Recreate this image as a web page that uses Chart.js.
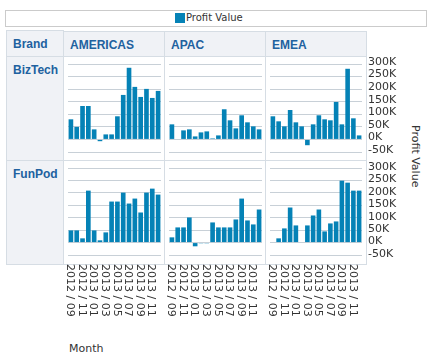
<!DOCTYPE html>
<html>
<head>
<meta charset="utf-8">
<script src="https://cdn.jsdelivr.net/npm/chart.js@4.4.0/dist/chart.umd.min.js"></script>
<style>
  body { margin: 0; background: #fff; width: 442px; height: 363px; overflow: hidden; position: relative; font-family: "DejaVu Sans", sans-serif; }
  .cell { position: absolute; box-sizing: border-box; border: 1px solid #d6dde4; }
  .hd { background: #f0f2f6; color: #21619f; font: bold 12px "Liberation Sans", Arial, sans-serif; padding-left: 6px; line-height: 14px; }
  canvas { position: absolute; }
  .txt { position: absolute; color: #333; white-space: nowrap; }
</style>
</head>
<body>
<div class="cell" style="left:5px;top:10px;width:422px;height:17px;border-color:#cbcbcb;"></div>
<div style="position:absolute;left:175px;top:13px;width:10px;height:10px;background:#0582b6;"></div>
<div class="txt" style="left:186px;top:12px;font-size:10px;line-height:12px;">Profit Value</div>
<div id="grid"></div>
<div class="txt" style="left:409px;top:125px;font-size:11px;line-height:12px;writing-mode:vertical-rl;">Profit Value</div>
<div class="txt" style="left:69px;top:342px;font-size:11px;line-height:13px;">Month</div>
<script>
(function () {
    'use strict';

    const months = ['2012 / 09', '2012 / 10', '2012 / 11', '2012 / 12', '2013 / 01', '2013 / 02', '2013 / 03', '2013 / 04',
        '2013 / 05', '2013 / 06', '2013 / 07', '2013 / 08', '2013 / 09', '2013 / 10', '2013 / 11', '2013 / 12']
    const regions = ['AMERICAS', 'APAC', 'EMEA']
    const brands = ['BizTech', 'FunPod']
    const yTicks = [-50000, 0, 50000, 100000, 150000, 200000, 250000, 300000]

    // profit per month
    const bizTechAmericas = [80000, 50000, 133000, 133000, 40000, -7000, 20000, 20000, 92000, 177000, 285000, 209000, 169000, 201000, 165000, 193000]
    const bizTechApac = [60000, 0, 36000, 40000, 12000, 28000, 32000, 4000, 16000, 120000, 76000, 44000, 96000, 68000, 52000, 40000]
    const bizTechEmea = [92000, 72000, 52000, 117000, 68000, 52000, -23000, 60000, 96000, 80000, 76000, 149000, 60000, 281000, 84000, 16000]
    const funPodAmericas = [49000, 49000, 17000, 209000, 49000, 9000, 41000, 165000, 165000, 201000, 157000, 177000, 121000, 201000, 217000, 193000]
    const funPodApac = [21000, 61000, 61000, 101000, -15000, -3000, -3000, 81000, 61000, 61000, 61000, 93000, 177000, 89000, 73000, 133000]
    const funPodEmea = [-2000, 17000, 57000, 141000, 69000, -2000, 69000, 109000, 133000, 45000, 77000, 85000, 249000, 241000, 209000, 209000]

    const series = [
        [bizTechAmericas, bizTechApac, bizTechEmea],
        [funPodAmericas, funPodApac, funPodEmea]
    ]

    let grid = document.getElementById('grid')
    function cell(x1, y1, x2, y2, cls, text) {
        let d = document.createElement('div')
        d.className = 'cell ' + (cls || '')
        d.style.cssText = `left:${x1}px;top:${y1}px;width:${x2 - x1 + 1}px;height:${y2 - y1 + 1}px;`
        if (text) d.textContent = text
        grid.appendChild(d)
        return d
    }

    let colX = [63, 164, 265, 366]
    let rowY = [56, 160, 264]
    cell(6, 30, 63, 56, 'hd', 'Brand').style.paddingTop = '6px'
    regions.forEach((r, i) => {
        cell(colX[i], 31, colX[i + 1], 56, 'hd', r).style.paddingTop = '6px'
    })
    brands.forEach((b, j) => {
        cell(6, rowY[j], 63, rowY[j + 1], 'hd', b).style.paddingTop = '6px'
        regions.forEach((r, i) => cell(colX[i], rowY[j], colX[i + 1], rowY[j + 1]))
    })

    const monthLabels = {
        id: 'monthLabels',
        afterDraw(chart, args, opts) {
            if (!opts.show) return
            let ctx = chart.ctx
            let x = chart.scales.x
            ctx.save()
            ctx.font = '11px "DejaVu Sans"'
            ctx.fillStyle = '#333'
            ctx.textAlign = 'left'
            ctx.textBaseline = 'middle'
            months.forEach((m, i) => {
                if (i % 2) return
                ctx.save()
                ctx.translate(x.getPixelForValue(i) - 1, chart.chartArea.bottom + 9)
                ctx.rotate(Math.PI / 2)
                ctx.fillText(m, 0, 0)
                ctx.restore()
            })
            ctx.restore()
        }
    }

    const PAD = 10
    const AXIS_W = 44
    const LABEL_H = 64
    let areaX = [[68, 161], [169, 262], [270, 362]]
    let areaY = [[64, 152], [168, 255]]

    brands.forEach((b, j) => {
        regions.forEach((r, i) => {
            let last = i === regions.length - 1
            let bottom = j === brands.length - 1
            let w = areaX[i][1] - areaX[i][0] + PAD * 2 + (last ? AXIS_W - PAD : 0)
            let h = areaY[j][1] - areaY[j][0] + PAD * 2 + (bottom ? LABEL_H : 0)
            let cv = document.createElement('canvas')
            cv.width = w
            cv.height = h
            cv.style.left = (areaX[i][0] - PAD) + 'px'
            cv.style.top = (areaY[j][0] - PAD) + 'px'
            document.body.appendChild(cv)

            new Chart(cv, {
                type: 'bar',
                data: {
                    labels: months,
                    datasets: [{
                        label: 'Profit Value',
                        data: series[j][i],
                        backgroundColor: '#0582b6',
                        barPercentage: 0.8,
                        categoryPercentage: 1
                    }]
                },
                options: {
                    responsive: false,
                    animation: false,
                    devicePixelRatio: 1,
                    layout: { padding: { left: PAD, top: PAD, right: last ? 0 : PAD, bottom: PAD + (bottom ? LABEL_H : 0) } },
                    plugins: { legend: { display: false }, tooltip: { enabled: false }, monthLabels: { show: bottom } },
                    scales: {
                        x: { display: false },
                        y: {
                            position: 'right',
                            min: yTicks[0],
                            max: yTicks[yTicks.length - 1],
                            afterBuildTicks: s => { s.ticks = yTicks.map(v => ({ value: v })) },
                            afterFit: s => {
                                s.width = last ? AXIS_W : 0
                                s.paddingTop = 0
                                s.paddingBottom = 0
                            },
                            border: { display: false },
                            grid: { color: '#c8d0d7', drawTicks: false },
                            ticks: {
                                display: last,
                                autoSkip: false,
                                padding: 6,
                                labelOffset: j === 0 ? -2 : -1,
                                color: '#333',
                                font: { family: 'DejaVu Sans', size: 11 },
                                callback: v => (v / 1000) + 'K'
                            }
                        }
                    }
                },
                plugins: [monthLabels]
            })
        })
    })
})();
</script>
</body>
</html>
